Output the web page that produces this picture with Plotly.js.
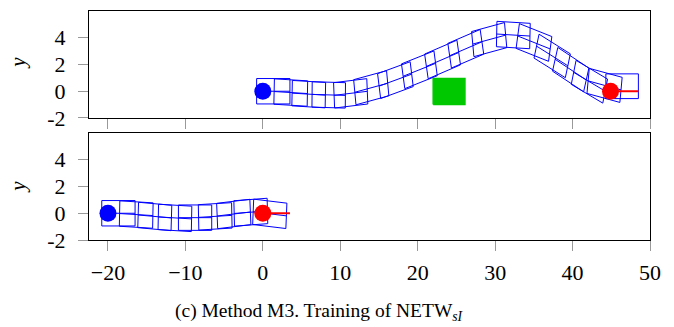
<!DOCTYPE html>
<html>
<head>
<meta charset="utf-8">
<script src="https://cdn.plot.ly/plotly-3.0.1.min.js"></script>
<style>html,body{margin:0;padding:0;background:#fff;}#chart{width:674px;height:327px;}</style>
</head>
<body>
<div id="chart"></div>
<script>
// ---- Data ----
// Top panel: vehicle reference (rear-axle) poses along the trajectory
const topPoseX = [0, 2.26, 4.58, 7.16, 10, 12.67, 15.8, 18.9, 21.9, 24.9, 27.9, 31, 33.7, 36.1, 38.5, 40.9, 42.8];
const topPoseY = [0, -0.05, -0.17, -0.25, -0.25, 0.05, 0.55, 1.3, 2.05, 2.85, 3.65, 4.25, 3.95, 3.1, 2.1, 1.15, 0.65];
const topPoseHeading = [0, -2, -2, -1, 4, 9, 12, 13, 14, 14, 9, -2, -13, -20, -21, -19, -9];
const topStartX = [0], topStartY = [0];
const topGoalX = [44.9], topGoalY = [0];
const topGoalLineX = [44.9, 48.5], topGoalLineY = [0, 0];
const topGoalBoxX = [44.3, 48.5], topGoalBoxY = [-0.55, 1.3];
const obstacleX = [22, 26.1], obstacleY = [-1.0, 0.95];

// Bottom panel
const botPoseX = [-20, -17.7, -15.3, -12.7, -10.1, -7.5, -5.1, -2.9, -0.45];
const botPoseY = [0, -0.05, -0.17, -0.3, -0.33, -0.28, -0.15, 0.02, 0.05];
const botPoseHeading = [0, -2, -3, -2, 0, 2, 4, 2.5, -4];
const botStartX = [-20], botStartY = [0];
const botGoalX = [0], botGoalY = [0];
const botGoalLineX = [0, 3.5], botGoalLineY = [0, 0];

// Vehicle footprint relative to the reference point
const rearOverhang = 0.8, frontLength = 3.5, halfWidth = 0.95;

const xTickVals = [-20, -10, 0, 10, 20, 30, 40, 50];
const xTickText = ['\u221220', '\u221210', '0', '10', '20', '30', '40', '50'];
const yTickVals = [-2, 0, 2, 4];
const yTickText = ['-2', '0', '2', '4'];

// ---- Build footprint outlines ----
function footprints(px, py, ph) {
  const xs = [], ys = [];
  for (let i = 0; i < px.length; i++) {
    const a = ph[i] * Math.PI / 180;
    const dx = Math.cos(a), dy = Math.sin(a);
    const nx = -Math.sin(a) * halfWidth, ny = Math.cos(a) * halfWidth;
    const rx = px[i] - rearOverhang * dx, ry = py[i] - rearOverhang * dy;
    const fx = px[i] + frontLength * dx, fy = py[i] + frontLength * dy;
    xs.push(rx + nx, fx + nx, fx - nx, rx - nx, rx + nx, null, rx, fx, null);
    ys.push(ry + ny, fy + ny, fy - ny, ry - ny, ry + ny, null, ry, fy, null);
  }
  return {xs, ys};
}
function boxOutline(bx, by) {
  return {xs: [bx[0], bx[1], bx[1], bx[0], bx[0]], ys: [by[0], by[0], by[1], by[1], by[0]]};
}

const topFp = footprints(topPoseX, topPoseY, topPoseHeading);
const botFp = footprints(botPoseX, botPoseY, botPoseHeading);
const goalBox = boxOutline(topGoalBoxX, topGoalBoxY);
const obst = boxOutline(obstacleX, obstacleY);

const BLUE = '#0000ff', RED = '#ff0000', GREEN = '#00c800';

const traces = [
  // top panel
  {x: obst.xs, y: obst.ys, xaxis: 'x2', yaxis: 'y2', mode: 'lines', fill: 'toself',
   fillcolor: GREEN, line: {color: GREEN, width: 1.5}, hoverinfo: 'skip'},
  {x: topFp.xs, y: topFp.ys, xaxis: 'x2', yaxis: 'y2', mode: 'lines',
   line: {color: BLUE, width: 1}, hoverinfo: 'skip'},
  {x: goalBox.xs, y: goalBox.ys, xaxis: 'x2', yaxis: 'y2', mode: 'lines',
   line: {color: BLUE, width: 1}, hoverinfo: 'skip'},
  {x: topGoalLineX, y: topGoalLineY, xaxis: 'x2', yaxis: 'y2', mode: 'lines',
   line: {color: RED, width: 2}, hoverinfo: 'skip'},
  {x: topStartX, y: topStartY, xaxis: 'x2', yaxis: 'y2', mode: 'markers',
   marker: {color: BLUE, size: 17}, hoverinfo: 'skip'},
  {x: topGoalX, y: topGoalY, xaxis: 'x2', yaxis: 'y2', mode: 'markers',
   marker: {color: RED, size: 17}, hoverinfo: 'skip'},
  // bottom panel
  {x: botFp.xs, y: botFp.ys, xaxis: 'x', yaxis: 'y', mode: 'lines',
   line: {color: BLUE, width: 1}, hoverinfo: 'skip'},
  {x: botGoalLineX, y: botGoalLineY, xaxis: 'x', yaxis: 'y', mode: 'lines',
   line: {color: RED, width: 2}, hoverinfo: 'skip'},
  {x: botStartX, y: botStartY, xaxis: 'x', yaxis: 'y', mode: 'markers',
   marker: {color: BLUE, size: 17}, hoverinfo: 'skip'},
  {x: botGoalX, y: botGoalY, xaxis: 'x', yaxis: 'y', mode: 'markers',
   marker: {color: RED, size: 17}, hoverinfo: 'skip'}
];

const FONT = 'Liberation Serif, Times New Roman, serif';
const tickFont = {family: FONT, size: 22, color: '#000'};

function xAx(extra) {
  return Object.assign({
    range: [-22.45, 50], tickvals: xTickVals, ticktext: xTickText,
    ticks: 'outside', ticklen: 10, tickcolor: '#999', tickwidth: 1,
    showline: true, mirror: true, linecolor: '#000', linewidth: 1,
    showgrid: false, zeroline: false, tickfont: tickFont, ticklabelstandoff: 3
  }, extra);
}
function yAx(extra) {
  return Object.assign({
    range: [-2, 6], tickvals: yTickVals, ticktext: yTickText,
    ticks: 'outside', ticklen: 10, tickcolor: '#999', tickwidth: 1,
    showline: true, mirror: true, linecolor: '#000', linewidth: 1,
    showgrid: false, zeroline: false, tickfont: tickFont, ticklabelstandoff: 8
  }, extra);
}

const layout = {
  width: 674, height: 327,
  margin: {l: 89, r: 24, t: 11, b: 87},
  paper_bgcolor: '#fff', plot_bgcolor: '#fff',
  showlegend: false,
  xaxis: xAx({anchor: 'y', domain: [0, 1]}),
  xaxis2: xAx({anchor: 'y2', domain: [0, 1], matches: 'x', showticklabels: false}),
  yaxis: yAx({anchor: 'x', domain: [0, 0.4672]}),
  yaxis2: yAx({anchor: 'x2', domain: [0.5328, 1]}),
  annotations: [
    {text: '<i>y</i>', xref: 'paper', yref: 'paper', x: -0.127, y: 0.773,
     xanchor: 'center', yanchor: 'middle', textangle: -90, showarrow: false,
     font: {family: FONT, size: 21, color: '#000'}},
    {text: '<i>y</i>', xref: 'paper', yref: 'paper', x: -0.127, y: 0.231,
     xanchor: 'center', yanchor: 'middle', textangle: -90, showarrow: false,
     font: {family: FONT, size: 21, color: '#000'}},
    {text: '(c) Method M3. Training of NETW<sub><i>sI</i></sub>', xref: 'paper', yref: 'paper',
     x: 0.41, y: -0.315, xanchor: 'center', yanchor: 'middle', showarrow: false,
     font: {family: FONT, size: 19.5, color: '#000'}}
  ]
};

Plotly.newPlot('chart', traces, layout, {staticPlot: true, displayModeBar: false});
</script>
</body>
</html>
